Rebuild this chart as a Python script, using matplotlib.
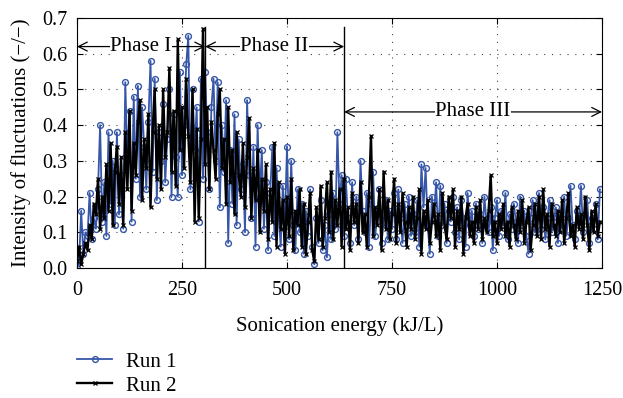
import numpy as np
import matplotlib
matplotlib.use("Agg")
import matplotlib.pyplot as plt

plt.rcParams['font.family'] = ['Liberation Serif', 'DejaVu Serif']

# sonication energy sampled every 5 kJ/L
energy = np.arange(0, 1250, 5)

run1 = [
    0.00, 0.02, 0.16, 0.04, 0.10, 0.09, 0.21, 0.08, 0.14, 0.11,
    0.22, 0.40, 0.13, 0.24, 0.09, 0.38, 0.18, 0.30, 0.12, 0.38,
    0.15, 0.26, 0.11, 0.52, 0.30, 0.44, 0.13, 0.48, 0.25, 0.51,
    0.20, 0.45, 0.34, 0.22, 0.41, 0.58, 0.27, 0.53, 0.19, 0.38,
    0.30, 0.46, 0.24, 0.36, 0.50, 0.20, 0.43, 0.31, 0.20, 0.55,
    0.26, 0.40, 0.57, 0.65, 0.22, 0.50, 0.33, 0.45, 0.13, 0.53,
    0.25, 0.55, 0.38, 0.22, 0.45, 0.53, 0.30, 0.52, 0.17, 0.40,
    0.27, 0.47, 0.07, 0.33, 0.18, 0.43, 0.12, 0.36, 0.22, 0.29,
    0.10, 0.47, 0.26, 0.14, 0.34, 0.06, 0.40, 0.20, 0.33, 0.11,
    0.24, 0.05, 0.21, 0.34, 0.09, 0.28, 0.15, 0.06, 0.23, 0.13,
    0.34, 0.08, 0.30, 0.12, 0.05, 0.22, 0.10, 0.18, 0.04, 0.16,
    0.09, 0.22, 0.06, 0.01, 0.14, 0.07, 0.19, 0.05, 0.12, 0.03,
    0.15, 0.08, 0.21, 0.11, 0.38, 0.18, 0.26, 0.09, 0.25, 0.14,
    0.07, 0.24, 0.12, 0.20, 0.08, 0.30, 0.16, 0.10, 0.21, 0.06,
    0.18, 0.27, 0.09, 0.15, 0.22, 0.07, 0.13, 0.19, 0.08, 0.16,
    0.11, 0.21, 0.08, 0.22, 0.14, 0.07, 0.18, 0.12, 0.20, 0.09,
    0.15, 0.10, 0.19, 0.06, 0.29, 0.17, 0.28, 0.12, 0.04, 0.20,
    0.14, 0.24, 0.09, 0.23, 0.12, 0.18, 0.07, 0.16, 0.13, 0.20,
    0.10, 0.17, 0.08, 0.19, 0.14, 0.06, 0.21, 0.12, 0.16, 0.09,
    0.18, 0.11, 0.15, 0.07, 0.20, 0.13, 0.10, 0.17, 0.05, 0.14,
    0.19, 0.09, 0.16, 0.12, 0.21, 0.08, 0.15, 0.11, 0.18, 0.13,
    0.07, 0.20, 0.12, 0.16, 0.09, 0.04, 0.14, 0.19, 0.10, 0.15,
    0.21, 0.11, 0.17, 0.08, 0.14, 0.19, 0.10, 0.13, 0.17, 0.07,
    0.15, 0.11, 0.20, 0.09, 0.14, 0.23, 0.12, 0.08, 0.16, 0.13,
    0.23, 0.10, 0.15, 0.19, 0.07, 0.14, 0.11, 0.18, 0.08, 0.22,
]

run2 = [
    0.02, 0.06, 0.01, 0.04, 0.07, 0.05, 0.12, 0.08, 0.18, 0.15,
    0.25, 0.11, 0.20, 0.14, 0.29, 0.16, 0.35, 0.12, 0.27, 0.34,
    0.18, 0.31, 0.12, 0.38, 0.22, 0.44, 0.16, 0.35, 0.26, 0.41,
    0.47, 0.19, 0.36, 0.28, 0.43, 0.17, 0.38, 0.50, 0.25, 0.40,
    0.22, 0.50, 0.31, 0.38, 0.56, 0.27, 0.44, 0.23, 0.64, 0.33,
    0.45, 0.28, 0.53, 0.37, 0.24, 0.50, 0.13, 0.39, 0.14, 0.36,
    0.67, 0.29, 0.45, 0.22, 0.41, 0.33, 0.25, 0.43, 0.50, 0.28,
    0.36, 0.18, 0.45, 0.24, 0.33, 0.15, 0.38, 0.26, 0.20, 0.35,
    0.17, 0.31, 0.42, 0.14, 0.28, 0.19, 0.33, 0.10, 0.25, 0.16,
    0.29, 0.08, 0.22, 0.13, 0.35, 0.06, 0.24, 0.11, 0.19, 0.04,
    0.20, 0.09, 0.25, 0.05, 0.16, 0.12, 0.22, 0.06, 0.18, 0.04,
    0.13, 0.21, 0.05, 0.02, 0.17, 0.08, 0.23, 0.06, 0.14, 0.24,
    0.10, 0.27, 0.08, 0.19, 0.12, 0.22, 0.06, 0.25, 0.11, 0.17,
    0.05, 0.21, 0.13, 0.18, 0.07, 0.24, 0.10, 0.15, 0.06, 0.20,
    0.37, 0.09, 0.17, 0.12, 0.22, 0.05, 0.27, 0.11, 0.19, 0.08,
    0.15, 0.25, 0.07, 0.18, 0.10, 0.21, 0.13, 0.06, 0.17, 0.11,
    0.20, 0.08, 0.14, 0.22, 0.04, 0.16, 0.11, 0.19, 0.07, 0.13,
    0.18, 0.09, 0.15, 0.05, 0.21, 0.12, 0.08, 0.20, 0.14, 0.22,
    0.06, 0.16, 0.11, 0.20, 0.04, 0.14, 0.18, 0.09, 0.13, 0.07,
    0.17, 0.11, 0.19, 0.08, 0.14, 0.10, 0.16, 0.26, 0.09, 0.13,
    0.07, 0.15, 0.11, 0.18, 0.09, 0.13, 0.06, 0.17, 0.12, 0.08,
    0.16, 0.10, 0.19, 0.07, 0.13, 0.17, 0.05, 0.12, 0.18, 0.09,
    0.20, 0.08, 0.22, 0.11, 0.15, 0.06, 0.18, 0.12, 0.09, 0.16,
    0.10, 0.19, 0.07, 0.14, 0.21, 0.09, 0.12, 0.06, 0.17, 0.11,
    0.15, 0.08, 0.20, 0.12, 0.05, 0.16, 0.10, 0.18, 0.09, 0.13,
]

# phase boundaries (kJ/L)
phase_edges = [0, 305, 636, 1250]
phase_labels = ['Phase I', 'Phase II', 'Phase III']
phase_y = [0.62, 0.62, 0.437]

fig = plt.figure(figsize=(6.23, 3.98), dpi=100)
ax = fig.add_axes([0.1236, 0.3266, 0.8427, 0.6282])

ax.plot(energy, run1, color='#3656a8', lw=1.3, marker='o', ms=4.2,
        mfc='none', mew=1.0, label='Run 1')
ax.plot(energy, run2, color='black', lw=1.7, marker='x', ms=3,
        mew=0.9, label='Run 2')

# vertical phase separators
for xv in phase_edges[1:3]:
    ax.plot([xv, xv], [0, 0.675], color='black', lw=1.0)

for i, lab in enumerate(phase_labels):
    x0, x1 = phase_edges[i], phase_edges[i + 1]
    ax.annotate('', xy=(x0, phase_y[i]), xytext=(x1, phase_y[i]),
                arrowprops=dict(arrowstyle='<->', color='black', lw=0.9,
                                shrinkA=0, shrinkB=0, mutation_scale=16))
    ax.text((x0 + x1) / 2, phase_y[i], lab, ha='center', va='center',
            fontsize=15, bbox=dict(fc='white', ec='none', pad=0.3))

ax.set_xlim(0, 1250)
ax.set_ylim(0, 0.7)
ax.set_xticks([0, 250, 500, 750, 1000, 1250])
ax.set_yticks(np.arange(0, 0.71, 0.1))
ax.set_yticklabels([f'{v:.1f}' for v in np.arange(0, 0.71, 0.1)])
ax.tick_params(direction='in', top=True, right=True, labelsize=14.5, length=4)
ax.tick_params(axis='x', pad=9)
ax.tick_params(axis='y', pad=7)
ax.grid(True, color='#444444', linestyle=(0, (1, 6)), lw=0.8)

ax.set_xlabel('Sonication energy (kJ/L)', fontsize=15, labelpad=12)
ax.set_ylabel('Intensity of fluctuations (\u2212/\u2212)', fontsize=15,
              labelpad=8)

fig.legend(loc='upper left', bbox_to_anchor=(0.110, 0.136), frameon=False,
           fontsize=15, handlelength=1.7, handletextpad=0.67,
           labelspacing=0.2, borderaxespad=0)

fig.savefig('out.png', dpi=100)
